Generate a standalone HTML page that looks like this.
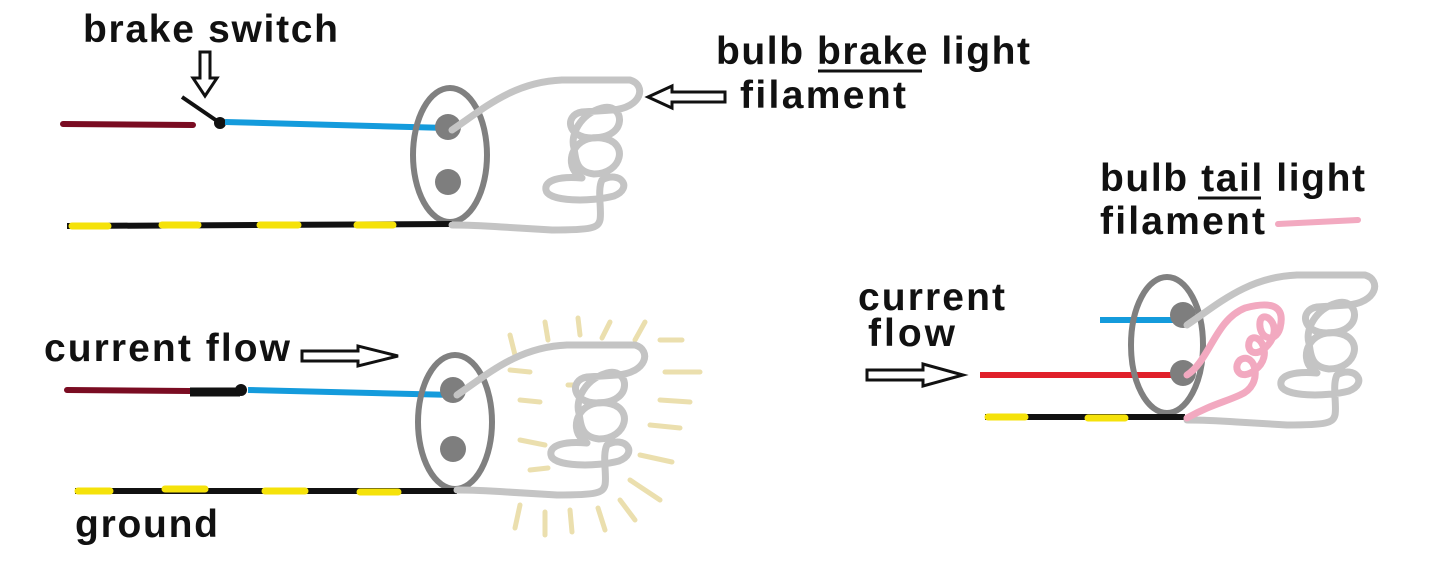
<!DOCTYPE html>
<html><head><meta charset="utf-8"><style>
html,body{margin:0;padding:0;background:#fff;width:1438px;height:578px;overflow:hidden}
text{font-family:"Liberation Sans",sans-serif;font-weight:bold;font-size:39px;fill:#111}
</style></head><body>
<svg width="1438" height="578" viewBox="0 0 1438 578" xmlns="http://www.w3.org/2000/svg">
<defs>
<g id="fil" fill="none" stroke="#c4c4c4" stroke-width="7" stroke-linecap="round" stroke-linejoin="round">
<path d="M0,0 C30,-20 60,-48 110,-50 L178,-50 C195,-45 190,-22 160,-20 L130,-18 C112,-15 115,8 140,8 C178,8 172,-28 150,-22 C128,-16 118,5 122,18 C124,32 125,42 142,44 C170,44 178,12 150,8 C122,4 112,32 125,44 L130,48 C108,46 92,50 94,60 C96,72 140,72 162,66 C182,58 168,40 150,50 C145,60 150,80 148,90 C146,98 140,100 100,100 L50,97 C20,95 5,95 0,95"/>
</g>
</defs>
<!-- Diagram 1 -->
<line x1="63" y1="124" x2="193" y2="125" stroke="#7a0c22" stroke-width="6" stroke-linecap="round"/>
<line x1="182" y1="97" x2="220" y2="123" stroke="#111" stroke-width="4"/>
<circle cx="220" cy="123" r="6" fill="#111"/>
<line x1="225" y1="122" x2="448" y2="128" stroke="#149bdc" stroke-width="6"/>
<ellipse cx="450" cy="155" rx="37" ry="67" fill="none" stroke="#808080" stroke-width="6"/>
<circle cx="448" cy="127" r="13" fill="#7e7e7e"/><circle cx="448" cy="182" r="13" fill="#7e7e7e"/>
<line x1="67" y1="226" x2="452" y2="224" stroke="#111" stroke-width="6"/>
<g stroke="#f5e20a" stroke-width="7" stroke-linecap="round"><line x1="72" y1="226" x2="108" y2="226"/><line x1="162" y1="225" x2="198" y2="225"/><line x1="260" y1="225" x2="298" y2="225"/><line x1="357" y1="225" x2="393" y2="225"/></g>
<use href="#fil" x="452" y="130"/>
<!-- Diagram 2 -->
<g stroke="#ebdfae" stroke-width="5" stroke-linecap="round">
<line x1="510" y1="335" x2="515" y2="355"/><line x1="545" y1="322" x2="548" y2="340"/><line x1="578" y1="318" x2="580" y2="335"/><line x1="610" y1="322" x2="602" y2="338"/><line x1="645" y1="322" x2="635" y2="340"/><line x1="660" y1="340" x2="682" y2="340"/><line x1="665" y1="372" x2="700" y2="372"/><line x1="660" y1="400" x2="690" y2="402"/><line x1="650" y1="425" x2="680" y2="428"/><line x1="640" y1="455" x2="672" y2="462"/><line x1="630" y1="480" x2="660" y2="500"/><line x1="620" y1="500" x2="635" y2="520"/><line x1="598" y1="508" x2="605" y2="530"/><line x1="570" y1="510" x2="572" y2="532"/><line x1="545" y1="512" x2="545" y2="535"/><line x1="520" y1="505" x2="515" y2="528"/><line x1="520" y1="440" x2="545" y2="445"/><line x1="530" y1="470" x2="548" y2="468"/><line x1="510" y1="370" x2="530" y2="372"/><line x1="520" y1="400" x2="540" y2="402"/><line x1="568" y1="385" x2="575" y2="385"/></g>
<line x1="67" y1="390" x2="190" y2="391" stroke="#7a0c22" stroke-width="6" stroke-linecap="round"/>
<line x1="190" y1="392" x2="240" y2="392" stroke="#111" stroke-width="9"/>
<circle cx="241" cy="390" r="6" fill="#111"/>
<line x1="248" y1="390" x2="455" y2="395" stroke="#149bdc" stroke-width="6"/>
<ellipse cx="455" cy="422" rx="37" ry="67" fill="none" stroke="#808080" stroke-width="6"/>
<circle cx="453" cy="390" r="13" fill="#7e7e7e"/><circle cx="453" cy="449" r="13" fill="#7e7e7e"/>
<line x1="75" y1="491" x2="457" y2="491" stroke="#111" stroke-width="6"/>
<g stroke="#f5e20a" stroke-width="7" stroke-linecap="round"><line x1="78" y1="491" x2="110" y2="491"/><line x1="165" y1="489" x2="205" y2="489"/><line x1="265" y1="491" x2="305" y2="491"/><line x1="360" y1="492" x2="398" y2="492"/></g>
<use href="#fil" x="457" y="395"/>
<!-- Diagram 3 -->
<line x1="1100" y1="320" x2="1180" y2="320" stroke="#149bdc" stroke-width="6"/>
<line x1="980" y1="375" x2="1185" y2="375" stroke="#e0202a" stroke-width="6"/>
<ellipse cx="1167" cy="345" rx="36" ry="68" fill="none" stroke="#808080" stroke-width="6"/>
<circle cx="1183" cy="315" r="13" fill="#7e7e7e"/><circle cx="1183" cy="373" r="13" fill="#7e7e7e"/>
<line x1="985" y1="417" x2="1185" y2="417" stroke="#111" stroke-width="6"/>
<g stroke="#f5e20a" stroke-width="7" stroke-linecap="round"><line x1="988" y1="417" x2="1025" y2="417"/><line x1="1088" y1="418" x2="1125" y2="418"/></g>
<use href="#fil" x="1187" y="325"/>
<path d="M1187,375 C1210,360 1215,320 1245,308 C1275,300 1285,308 1280,328 C1275,345 1258,338 1260,322 C1262,308 1285,325 1268,345 C1255,360 1245,350 1250,340 C1258,330 1275,355 1255,370 C1240,382 1232,368 1240,360 C1255,350 1265,385 1240,395 C1225,402 1210,405 1187,418" fill="none" stroke="#f2a9c0" stroke-width="7" stroke-linecap="round" stroke-linejoin="round"/>
<line x1="1278" y1="224" x2="1358" y2="220" stroke="#f2a9c0" stroke-width="6" stroke-linecap="round"/>
<!-- Arrows -->
<g fill="#fff" stroke="#111" stroke-width="3">
<path d="M200,52 L210,52 L210,78 L217,78 L205,96 L193,78 L200,78 Z"/>
<path d="M725,92 L725,102 L672,102 L672,108 L648,97 L672,86 L672,92 Z"/>
<path d="M302,351 L302,361 L358,361 L358,366 L398,356 L358,346 L358,351 Z"/>
<path d="M867,370 L867,380 L923,380 L923,386 L963,375 L923,364 L923,370 Z"/>
</g>
<!-- Text -->
<text x="83" y="42" textLength="255" lengthAdjust="spacing">brake switch</text>
<text x="716" y="64" textLength="314" lengthAdjust="spacing">bulb brake light</text>
<line x1="818" y1="71" x2="922" y2="71" stroke="#111" stroke-width="3"/>
<text x="740" y="108" textLength="166" lengthAdjust="spacing">filament</text>
<text x="1100" y="191" textLength="265" lengthAdjust="spacing">bulb tail light</text>
<line x1="1198" y1="198" x2="1261" y2="198" stroke="#111" stroke-width="3"/>
<text x="1100" y="234" textLength="165" lengthAdjust="spacing">filament</text>
<text x="44" y="361" textLength="246" lengthAdjust="spacing">current flow</text>
<text x="75" y="537" textLength="143" lengthAdjust="spacing">ground</text>
<text x="858" y="310" textLength="147" lengthAdjust="spacing">current</text>
<text x="868" y="346" textLength="87" lengthAdjust="spacing">flow</text>
</svg>
</body></html>
